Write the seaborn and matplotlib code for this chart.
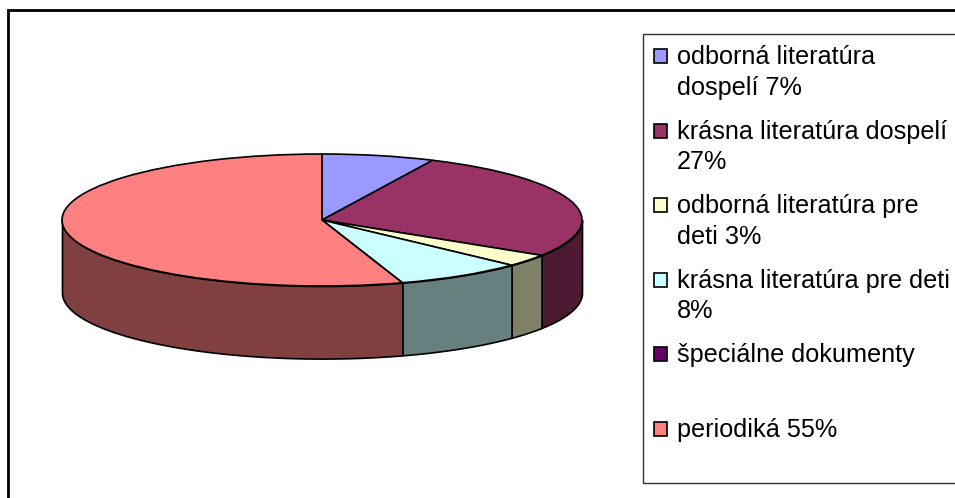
import numpy as np
import matplotlib
matplotlib.use('Agg')
import matplotlib.pyplot as plt
import seaborn as sns
from matplotlib.patches import Rectangle
from matplotlib.legend_handler import HandlerPatch

# Data (share of the collection, %)
labels = ['odborná literatúra\ndospelí 7%',
          'krásna literatúra dospelí\n27%',
          'odborná literatúra pre\ndeti 3%',
          'krásna literatúra pre deti\n8%',
          'špeciálne dokumenty\n ',
          'periodiká 55%\n ']
shares = [7, 27, 3, 8, 0, 55]

top_colors = ['#9999FF', '#993366', '#FFFFCC', '#CCFFFF', '#660066', '#FF8080']
side_colors = ['#4D4D80', '#4D1A33', '#808066', '#668080', '#330033', '#804040']

sns.set_theme(style='white')
plt.rcParams['font.family'] = ['Liberation Sans', 'DejaVu Sans']

W, H = 955, 498
fig = plt.figure(figsize=(W / 100, H / 100), dpi=100)

# pie area: center (322, 220) px, radii 260 x 66 px
cx, cy, rx, ry = 322, 220, 260, 66
xl, yl_top, yl_bot = 1.1, 1.2, 2.5
ax = fig.add_axes([(cx - xl * rx) / W, 1 - (cy + yl_bot * ry) / H,
                   2 * xl * rx / W, (yl_top + yl_bot) * ry / H])

wedges, _ = ax.pie(shares, colors=top_colors, startangle=90, counterclock=False,
                   wedgeprops=dict(edgecolor='black', linewidth=1.2, zorder=3))
ax.set_aspect('auto')
ax.set_xlim(-xl, xl)
ax.set_ylim(-yl_bot, yl_top)
ax.axis('off')

# extruded side of the front half of each wedge
depth = 1.1
for w, col in zip(wedges, side_colors):
    t1, t2 = w.theta1, w.theta2
    if t2 - t1 <= 0:
        continue
    for k in range(-2, 2):
        lo = max(t1, 180 + 360 * k)
        hi = min(t2, 360 + 360 * k)
        if hi > lo:
            t = np.radians(np.linspace(lo, hi, 200))
            x = np.cos(t)
            y = np.sin(t)
            ax.fill_between(x, y - depth, y, facecolor=col, edgecolor='black',
                            linewidth=1.2, zorder=2)

# chart area border (cropped at right and bottom)
fig.patches.append(Rectangle((8 / W, -0.1), 1.2, 1.1 - 10 / H, transform=fig.transFigure,
                             fill=False, edgecolor='black', linewidth=2))


def first_line_box(legend, orig_handle, xdescent, ydescent, width, height, fontsize):
    return Rectangle((-xdescent, -ydescent + 0.66 * fontsize), width, height)


leg = fig.legend(wedges, labels, loc='upper left',
                 bbox_to_anchor=(643 / W, 1 - 34 / H), bbox_transform=fig.transFigure,
                 fontsize=18.2, frameon=True, fancybox=False, shadow=False,
                 borderpad=0.45, labelspacing=0.8, handlelength=0.48, handleheight=0.48,
                 handletextpad=0.42, borderaxespad=0,
                 handler_map={matplotlib.patches.Wedge: HandlerPatch(patch_func=first_line_box)})
leg.get_frame().set_edgecolor('black')
leg.get_frame().set_linewidth(1)
for txt in leg.get_texts():
    txt.set_color('black')
    txt.set_linespacing(1.33)

fig.savefig('out.png', dpi=100)
